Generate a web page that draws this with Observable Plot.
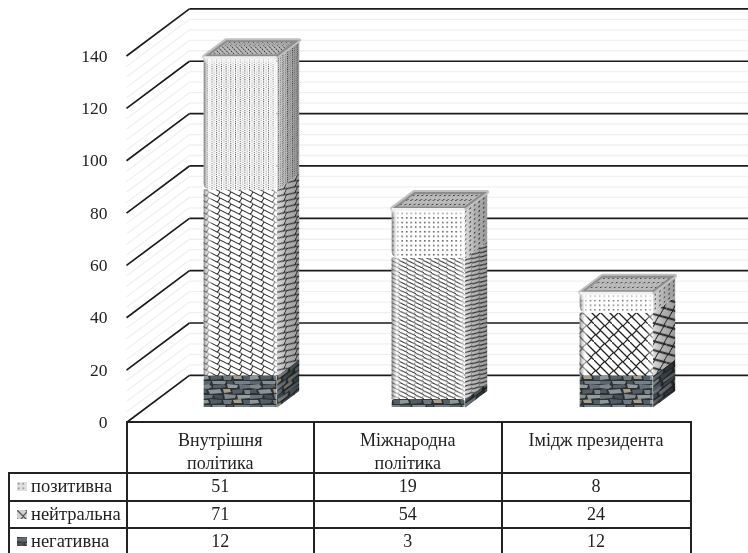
<!DOCTYPE html>
<html lang="uk">
<head>
<meta charset="utf-8">
<script src="https://cdn.jsdelivr.net/npm/d3@7"></script>
<script src="https://cdn.jsdelivr.net/npm/@observablehq/plot@0.6"></script>
<style>
html,body{margin:0;padding:0;background:#fff;width:748px;height:553px;overflow:hidden;font-family:"Liberation Serif",serif;color:#222}
#chart{position:absolute;left:0;top:0;filter:blur(.35px)}
table{position:absolute;left:8px;top:421px;border-collapse:collapse;table-layout:fixed;width:681.5px;font-size:18px;line-height:23px;filter:blur(.3px)}
td{border:2px solid #222;text-align:center;padding:0;overflow:hidden;white-space:nowrap}
tr.head td{height:51px;vertical-align:top;box-sizing:border-box;white-space:pre-line}
tr.head td div{height:49px;padding-top:6px;box-sizing:border-box;overflow:hidden}
tr.head td:first-child{border-top:none;border-left:none}
tr.row td{height:27.5px;box-sizing:border-box}
tr.last td{height:40px;vertical-align:top;padding-top:1px}
td.name{text-align:left;padding-left:7px;font-size:18.5px}
td.name svg{width:10px;height:9px;margin-right:4px;vertical-align:1px}
</style>
</head>
<body>
<div id="chart"></div>
<script>
const categories = ["Внутрішня\nполітика", "Міжнародна\nполітика", "Імідж президента"];
const seriesNames = ["позитивна", "нейтральна", "негативна"];
const positive = [51, 19, 8];
const neutral = [71, 54, 24];
const negative = [12, 3, 12];
const yTicks = [0, 20, 40, 60, 80, 100, 120, 140];
const minorTicks = d3.range(0, 141, 4);

// oblique projection of the 3-D chart box, in scale units
const DX = 0.335, DY = 18;              // full floor depth
const BAR_W = 0.388, D0 = 0.32, D1 = 0.67; // bar width and depth span
const XEND = 3.31;
const px = (c, d) => c + d * DX;
const py = (v, d) => v + d * DY;

// textures: flat for the front, skewed for side and top faces
const pat = (id, w, h, inner) =>
  [["", ""], ["S", "skewY(-36)"], ["T", "skewX(-54)"]].map(([suf, t]) =>
    `<pattern id="${id}${suf}" width="${w}" height="${h}" patternUnits="userSpaceOnUse"${t ? ` patternTransform="${t}"` : ""}><rect width="${w}" height="${h}" fill="#fff"/>${inner}</pattern>`
  ).join("");
const stoneShapes = [
  ["0,1 9,0 12,3 8,5 0,4","#7d878c"],["13,1 24,0 26,3 21,4 13,4","#566167"],["27,0 38,1 37,4 28,4","#939a9b"],["39,0 50,1 50,4 40,5","#67727a"],
  ["0,6 6,5 7,9 0,9","#4d585e"],["8,6 20,5 22,9 10,10","#8a9397"],["23,5 30,5 31,8 24,9","#a89e86"],["32,6 43,5 42,9 33,10","#545f66"],["44,6 50,6 50,10 45,10","#7b8489"],
  ["0,11 13,11 12,14 0,15","#69747a"],["14,11 22,11 23,15 15,14","#454f55"],["24,10 36,11 35,14 25,15","#818b90"],["37,11 50,11 50,14 38,15","#969d9f"],
  ["0,16 8,16 9,19 0,20","#8e9698"],["10,15 22,16 21,19 11,20","#525d64"],["23,16 32,16 31,20 24,20","#6e797f"],["33,16 41,15 42,19 34,19","#a59c87"],["43,16 50,16 50,20 44,20","#535f67"],
  ["0,21 11,21 10,24 0,24","#5c676d"],["12,21 26,21 25,24 13,24","#848d91"],["27,21 33,21 33,24 27,24","#495459"],["34,21 50,21 50,24 35,24","#75808a"]
];
const defs = `<defs>
${pat("pos0", 4.7, 2.2, '<rect width="1" height="1.1" fill="#444"/><rect x="2.4" y="1.1" width="1" height="1.1" fill="#999"/>')}
${pat("pos1", 4.5, 4.6, '<rect x="1" y="1" width="1.4" height="1.4" fill="#333"/>')}
${pat("pos2", 4.6, 4.6, '<rect x="1" y="1" width="1.3" height="1.3" fill="#444"/>')}
${pat("neu0", 11, 6, '<path d="M-1 -.5L12 6M-1 5.5L1 6.5M10 -.5L12 .5M8.5 4.25L11 0M-2.5 4.25L0 0" stroke="#333" stroke-width="1.1" fill="none"/>')}
${pat("neu1", 8, 4.2, '<path d="M-1 0L9 4.5M-1 4.2L2 5.5M6 -1L9 .4" stroke="#333" stroke-width="1" fill="none"/><path d="M6 2.7L8 0M-2 2.7L0 0" stroke="#888" stroke-width=".8" fill="none"/>')}
${pat("neu2", 18, 18, '<path d="M-1 -1L19 19M8 -1L19 10M-1 8L10 19" stroke="#222" stroke-width="1.3" fill="none"/><path d="M6 6L10.5 1.5M15 15L19.5 10.5M-3 15L1.5 10.5M2 11L6.5 6.5M11 20L15.5 15.5M11 2L15.5 -2.5" stroke="#222" stroke-width="1.1" fill="none"/>')}
${pat("stone", 50, 24, `<rect width="50" height="24" fill="#2c3133"/>${stoneShapes.map(([p, c]) => `<polygon points="${p}" fill="${c}"/>`).join("")}`)}
<linearGradient id="edgeH" x1="0" x2="1" y1="0" y2="0">
 <stop offset="0" stop-color="#555" stop-opacity=".75"/><stop offset=".03" stop-color="#999" stop-opacity=".5"/><stop offset=".07" stop-color="#fff" stop-opacity=".6"/><stop offset=".13" stop-color="#fff" stop-opacity="0"/><stop offset=".9" stop-color="#fff" stop-opacity="0"/><stop offset="1" stop-color="#fff" stop-opacity=".6"/>
</linearGradient>
<linearGradient id="edgeV" x1="0" x2="0" y1="0" y2="1">
 <stop offset="0" stop-color="#fff" stop-opacity=".9"/><stop offset="1" stop-color="#fff" stop-opacity="0"/>
</linearGradient>
<linearGradient id="sideShade" x1="0" x2="1" y1="0" y2="0">
 <stop offset="0" stop-color="#000" stop-opacity=".14"/><stop offset=".45" stop-color="#000" stop-opacity=".3"/><stop offset="1" stop-color="#000" stop-opacity=".4"/>
</linearGradient>
</defs>`;

const poly = (pts, o) => Plot.line(pts, {x: "x", y: "y", curve: "linear-closed", ...o});

const marks = [];
const wall = (vals, o) => [
  Plot.link(vals, {x1: () => px(0, 1), x2: () => XEND, y1: v => py(v, 1), y2: v => py(v, 1), ...o}),
  Plot.link(vals, {x1: () => px(0, 0), x2: () => px(0, 1), y1: v => py(v, 0), y2: v => py(v, 1), ...o})
];
marks.push(...wall(minorTicks, {stroke: "#f0f0f0", strokeWidth: 1.3}));
marks.push(...wall(yTicks, {stroke: "#1c1c1c", strokeWidth: 1.7}));
marks.push(Plot.axisY({ticks: yTicks, tickSize: 0, fontSize: 17.5, label: null, fill: "#222", dx: -10}));

categories.forEach((name, i) => {
  const x1 = i + 0.5 - BAR_W / 2, x2 = i + 0.5 + BAR_W / 2;
  const a = negative[i], b = a + neutral[i], c = b + positive[i];
  const segs = [
    {v0: 0, v1: a, id: "stone"},
    {v0: a, v1: b, id: `neu${i}`},
    {v0: b, v1: c, id: `pos${i}`}
  ];
  segs.forEach((s, k) => {
    const sidePts = [
      {x: px(x2, D0), y: py(s.v0, D0)}, {x: px(x2, D1), y: py(s.v0, D1)},
      {x: px(x2, D1), y: py(s.v1, D1)}, {x: px(x2, D0), y: py(s.v1, D0)}
    ];
    marks.push(poly(sidePts, {fill: `url(#${s.id}S)`, stroke: "none"}));
    marks.push(poly(sidePts, {fill: "url(#sideShade)", stroke: "none"}));
    const corners = k === 0 ? {rx1y2: 3, rx2y2: 3} : k === 2 ? {rx1y1: 6, rx2y1: 6} : {};
    const face = {x1: () => px(x1, D0), x2: () => px(x2, D0), y1: d => py(d.v0, D0), y2: d => py(d.v1, D0), ...corners};
    marks.push(Plot.rect([s], {...face, fill: `url(#${s.id})`}));
    if (k) marks.push(Plot.rect([s], {...face, fill: "url(#edgeH)"}));
    if (k === 2) {
      const topPts = [
        {x: px(x1, D0), y: py(c, D0)}, {x: px(x2, D0), y: py(c, D0)},
        {x: px(x2, D1), y: py(c, D1)}, {x: px(x1, D1), y: py(c, D1)}
      ];
      marks.push(poly(topPts, {fill: `url(#${s.id}T)`, stroke: "#c0c0c0", strokeWidth: 4, strokeLinejoin: "round"}));
      marks.push(poly(topPts, {fill: "#000", fillOpacity: 0.27, stroke: "none"}));
      marks.push(Plot.rect([s], {x1: () => px(x1, D0), x2: () => px(x2, D0), y1: () => py(c - 3.5, D0), y2: () => py(c, D0), fill: "url(#edgeV)", rx1y1: 6, rx2y1: 6}));
    }
  });
});

const chart = Plot.plot({
  width: 748, height: 553,
  marginLeft: 126, marginRight: 0, marginTop: 0, marginBottom: 0,
  style: {fontFamily: "Liberation Serif", background: "transparent", overflow: "visible"},
  x: {type: "linear", domain: [0, 3], range: [126, 690], axis: null},
  y: {type: "linear", domain: [0, 140], range: [422, 55.5], axis: null},
  marks
});
chart.insertAdjacentHTML("afterbegin", defs);
document.getElementById("chart").append(chart);

// data table below the chart
const swatch = ["url(#pos1)", "url(#neu2)", "url(#stone)"];
const shade = ["#bbb", "#999", "#444"];
const table = d3.select("body").append("table");
const cg = table.append("colgroup");
[117.5, 187.5, 187.5, 189].forEach(w => cg.append("col").style("width", w + "px"));
const head = table.append("tr").attr("class", "head");
head.append("td");
categories.forEach(c => head.append("td").append("div").text(c));
[positive, neutral, negative].forEach((vals, r) => {
  const tr = table.append("tr").attr("class", r === 2 ? "row last" : "row");
  const td = tr.append("td").attr("class", "name");
  td.html(`<svg viewBox="0 0 10 9"><rect width="10" height="9" fill="${shade[r]}"/><rect width="10" height="9" fill="${swatch[r]}" opacity=".55"/></svg>`);
  td.append("span").text(seriesNames[r]);
  vals.forEach(v => tr.append("td").text(v));
});
</script>
</body>
</html>
